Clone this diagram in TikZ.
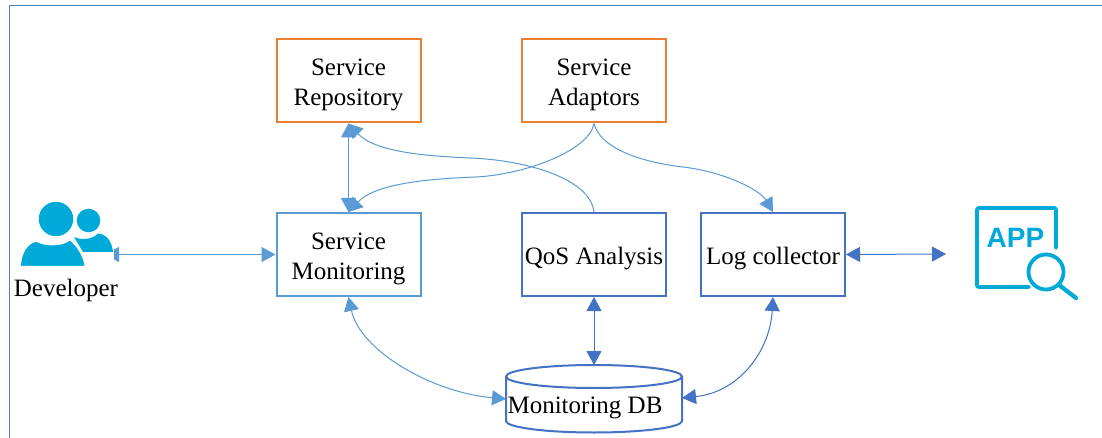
\documentclass[tikz,border=0pt]{standalone}
\usepackage{fontspec}
\setmainfont{Liberation Serif}
\newfontfamily\iconfont{Liberation Sans}
\usetikzlibrary{arrows.meta,shapes.geometric}
\definecolor{org}{HTML}{ED7D31}
\definecolor{lblue}{HTML}{5B9BD5}
\definecolor{dblue}{HTML}{4472C4}
\definecolor{cyanb}{HTML}{00AAD8}
\definecolor{frame}{HTML}{4F81BD}
\newcommand{\lowered}[1]{\smash{\raisebox{-10pt}{\begin{tabular}{@{}c@{}}#1\end{tabular}}}}
\tikzset{
 box/.style={draw,line width=2pt,fill=white,minimum width=144pt,minimum height=83pt,inner sep=0pt,align=center,font=\fontsize{25}{30}\selectfont,text=black},
 lbl/.style={inner sep=0pt,font=\fontsize{25}{30}\selectfont,text=black},
 conn/.style={line width=1pt,color=lblue},
 connd/.style={line width=1pt,color=dblue},
 tip/.style={-{Triangle[length=14pt,width=15pt]}},
 tips/.style={{Triangle[length=14pt,width=15pt]}-{Triangle[length=14pt,width=15pt]}},
 glyph/.style={fill=cyanb,draw=none},
 glyphl/.style={draw=cyanb,line width=3.8pt,line cap=round,line join=round}
}
\begin{document}
\begin{tikzpicture}[x=1pt,y=-1pt]
\useasboundingbox (0,0) rectangle (1102,438);
\fill[white] (0,0) rectangle (1102,438);
\draw[frame,line width=1.3pt] (9.5,438) -- (9.5,5.5) -- (1102,5.5);
% boxes
\node[box,draw=org] (repo) at (348.5,81) {\lowered{Service\\Repository}};
\node[box,draw=org] (adapt) at (594,81) {\lowered{Service\\Adaptors}};
\node[box,draw=lblue] (mon) at (348.5,254.5) {\lowered{Service\\Monitoring}};
\node[box,draw=dblue] (qos) at (594,254.5) {\lowered{QoS Analysis}};
\node[box,draw=dblue] (log) at (773,254.5) {\lowered{Log collector}};
% cylinder
\coordinate (dbL) at (506,399);
\coordinate (dbR) at (682,398);
\coordinate (dbT) at (594,365);
\draw[dblue,line width=2pt,fill=white] (506,376.5) arc[x radius=88,y radius=11.5,start angle=180,end angle=360] -- (682,421) arc[x radius=88,y radius=11.5,start angle=0,end angle=180] -- cycle;
\draw[dblue,line width=2pt] (506,376.5) arc[x radius=88,y radius=11.5,start angle=180,end angle=0];
\node[lbl] (db) at (585,408) {Monitoring DB};
% developer
\node[lbl] (dev) at (66,290) {Developer};
\coordinate (devR) at (105,254.5);
\fill[glyph] (56,219) circle (17.2);
\fill[glyph] (88.5,220.5) circle (11.8);
\fill[glyph] (74,237) .. controls (80,240) and (92,240) .. (98,233.5) .. controls (106,234) and (112,241) .. (113,252) -- (83,252) -- cycle;
\fill[glyph,draw=white,line width=1.5pt] (20,266.5) .. controls (21,252) and (27,243) .. (36,241) .. controls (46,246) and (62,246) .. (70,239.5) .. controls (78,246) and (84,256) .. (85.5,266.5) -- cycle;
% app icon
\coordinate (appL) at (946,254);
\draw[glyphl,rounded corners=2pt] (1056,248) -- (1056,208) -- (977,208) -- (977,287) -- (1029,287);
\draw[glyphl] (1046,272) circle (17.5);
\draw[glyphl,line width=4.2pt] (1059,285) -- (1076,298);
\node[inner sep=0pt,text=cyanb,font=\iconfont\bfseries\fontsize{28}{28}\selectfont] (apptxt) at (1015.5,238) {APP};
% connectors
\begin{scope}
\clip (114,225) rectangle (300,285);
\draw[conn,tips] (devR) -- (mon.west);
\end{scope}
\draw[conn,tips] (repo.south) -- (mon.north);
\draw[conn,tip] (qos.north) .. controls (590,178) and (525,160) .. (470,158) .. controls (425,156) and (375,152) .. (repo.south);
\draw[conn,tip] (adapt.south) .. controls (590,150) and (525,175) .. (475,177) .. controls (425,179) and (375,184) .. (mon.north);
\draw[conn,tip] (adapt.south) .. controls (600,148) and (640,162) .. (683,167) .. controls (725,172) and (760,190) .. (log.north);
\draw[connd,tips] (qos.south) -- (dbT);
\draw[conn,tips] (mon.south) .. controls (360,350) and (430,392) .. (dbL);
\draw[connd,tips] (log.south) .. controls (770,350) and (740,392) .. (dbR);
\draw[connd,tips] (log.east) -- (appL);
\end{tikzpicture}
\end{document}
